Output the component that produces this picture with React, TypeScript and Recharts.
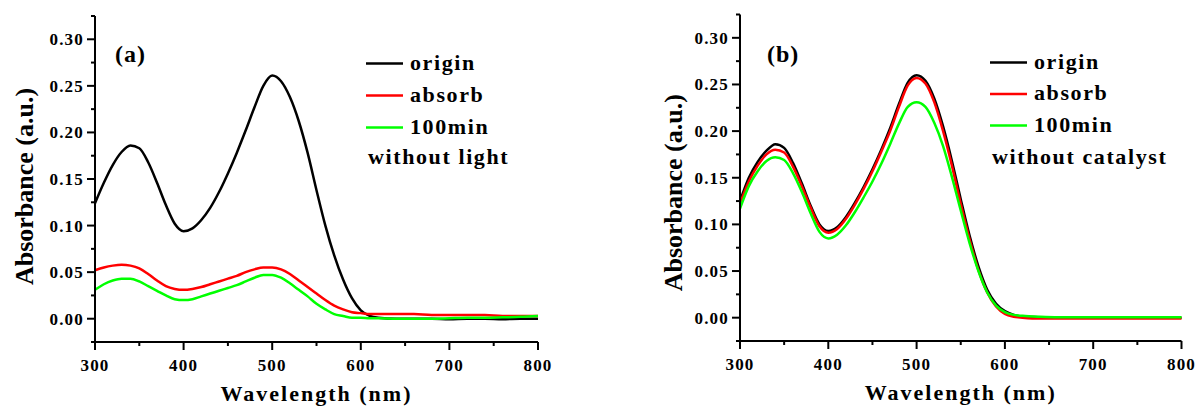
import { Legend, Line, LineChart, XAxis, YAxis } from "recharts";

const wavelengths = [
  300, 310, 320, 330, 340, 350, 360, 370, 380, 390, 400, 410, 420, 430, 440, 450, 460, 470, 480, 490, 500,
  510, 520, 530, 540, 550, 560, 570, 580, 590, 600, 610, 620, 640, 660, 680, 700, 720, 740, 760, 780, 800,
];

// panel (a) - without light
const aOrigin = [
  0.124, 0.146, 0.165, 0.179, 0.186, 0.183, 0.168, 0.146, 0.122, 0.102, 0.094, 0.097, 0.106, 0.119, 0.136,
  0.156, 0.178, 0.202, 0.227, 0.25, 0.261, 0.255, 0.238, 0.212, 0.178, 0.138, 0.1, 0.068, 0.042, 0.022,
  0.009, 0.003, 0.001, 0.0, 0.0, 0.0, -0.0005, 0.0, 0.0, -0.0005, 0.0, 0.0,
];
const aAbsorb = [
  0.052, 0.055, 0.057, 0.058, 0.057, 0.054, 0.048, 0.041, 0.035, 0.032, 0.031, 0.032, 0.034, 0.037, 0.04,
  0.043, 0.046, 0.05, 0.053, 0.055, 0.055, 0.053, 0.048, 0.041, 0.034, 0.027, 0.02, 0.014, 0.01, 0.007,
  0.006, 0.005, 0.005, 0.005, 0.005, 0.004, 0.004, 0.004, 0.004, 0.003, 0.003, 0.003,
];
const a100min = [
  0.031, 0.037, 0.041, 0.043, 0.043, 0.04, 0.035, 0.03, 0.025, 0.021, 0.02, 0.021, 0.024, 0.027, 0.03,
  0.033, 0.036, 0.04, 0.044, 0.047, 0.047, 0.044, 0.038, 0.031, 0.024, 0.016, 0.01, 0.005, 0.003, 0.001,
  0.001, 0.0005, 0.0005, 0.0, 0.0, 0.0, 0.0005, 0.001, 0.001, 0.0015, 0.002, 0.003,
];

// panel (b) - without catalyst
const bOrigin = [
  0.125, 0.15, 0.167, 0.179, 0.186, 0.182, 0.166, 0.144, 0.12, 0.1, 0.093, 0.097, 0.108, 0.123, 0.14,
  0.159, 0.18, 0.203, 0.229, 0.252, 0.26, 0.254, 0.235, 0.205, 0.168, 0.127, 0.088, 0.055, 0.03, 0.015,
  0.007, 0.003, 0.001, 0.0005, 0.0, 0.0, 0.0, 0.0, 0.0, 0.0, 0.0, 0.0,
];
const bAbsorb = [
  0.122, 0.146, 0.163, 0.175, 0.18, 0.177, 0.162, 0.141, 0.118, 0.098, 0.091, 0.095, 0.106, 0.121, 0.138,
  0.157, 0.178, 0.2, 0.226, 0.249, 0.257, 0.251, 0.231, 0.2, 0.163, 0.122, 0.084, 0.051, 0.027, 0.012,
  0.004, 0.001, 0.0, -0.001, -0.001, -0.001, -0.001, -0.001, -0.001, -0.001, -0.001, -0.001,
];
const b100min = [
  0.117, 0.141, 0.157, 0.168, 0.172, 0.169, 0.155, 0.135, 0.112, 0.092, 0.085, 0.089, 0.099, 0.113, 0.129,
  0.146, 0.165, 0.186, 0.208, 0.226, 0.231, 0.226, 0.209, 0.184, 0.151, 0.115, 0.08, 0.05, 0.027, 0.013,
  0.006, 0.003, 0.002, 0.001, 0.0005, 0.0005, 0.0005, 0.0005, 0.0005, 0.0005, 0.0005, 0.0005,
];

const xTicks = [300, 350, 400, 450, 500, 550, 600, 650, 700, 750, 800];
const yTicks = [
  -0.025, 0, 0.025, 0.05, 0.075, 0.1, 0.125, 0.15, 0.175, 0.2, 0.225, 0.25, 0.275, 0.3, 0.325,
];

const seriesNames = ["origin", "absorb", "100min"];
const seriesColors = ["#000000", "#ff0000", "#00ff00"];

const buildRows = (origin: number[], absorb: number[], min100: number[]) =>
  wavelengths.map((w, i) => ({ w, origin: origin[i], absorb: absorb[i], min100: min100[i] }));

const dataA = buildRows(aOrigin, aAbsorb, a100min);
const dataB = buildRows(bOrigin, bAbsorb, b100min);

const serif = "Liberation Serif, Tinos, Times New Roman, DejaVu Serif, serif";
const tickFont = { fontFamily: serif, fontWeight: 700, fontSize: 17, letterSpacing: 1.2, fill: "#000" };
const bigFont = { fontFamily: serif, fontWeight: 700, fontSize: 22, letterSpacing: 1.6, fill: "#000" };
const frame = { stroke: "#000", strokeWidth: 2 };

const XTick = (props: any) => {
  const { x, y, payload } = props;
  const v = payload.value;
  const major = v % 100 === 0;
  return (
    <g>
      <line x1={x} x2={x} y1={y} y2={y + (major ? 8 : 4)} {...frame} />
      {major && (
        <text x={x} y={y + 29} textAnchor="middle" fontFamily={serif} style={tickFont}>
          {v}
        </text>
      )}
    </g>
  );
};

const YTick = (props: any) => {
  const { x, y, payload } = props;
  const v = payload.value;
  const major = Math.abs(v * 20 - Math.round(v * 20)) < 1e-6;
  return (
    <g>
      <line x1={x} x2={x - (major ? 8 : 4)} y1={y} y2={y} {...frame} />
      {major && (
        <text x={x - 11} y={y} dy="0.35em" textAnchor="end" fontFamily={serif} style={tickFont}>
          {v.toFixed(2)}
        </text>
      )}
    </g>
  );
};

interface LegendSpec {
  tag: string;
  note: string;
  tagX: number;
  tagY: number;
  lineX: number;
  textX: number;
  baseY: number;
  step: number;
  noteX: number;
  noteY: number;
}

const PanelLegend = ({ spec }: { spec: LegendSpec }) => (
  <svg width={440} height={150} style={{ display: "block" }}>
    <text x={spec.tagX} y={spec.tagY} fontFamily={serif} style={{ ...bigFont, fontSize: 24, letterSpacing: 1 }}>
      {spec.tag}
    </text>
    {seriesNames.map((name, i) => (
      <g key={name}>
        <line
          x1={spec.lineX}
          x2={spec.lineX + 37}
          y1={spec.baseY + i * spec.step - 6}
          y2={spec.baseY + i * spec.step - 6}
          stroke={seriesColors[i]}
          strokeWidth={2.5}
        />
        <text x={spec.textX} y={spec.baseY + i * spec.step} fontFamily={serif} style={bigFont}>
          {name}
        </text>
      </g>
    ))}
    <text x={spec.noteX} y={spec.noteY} fontFamily={serif} style={bigFont}>
      {spec.note}
    </text>
  </svg>
);

interface PanelProps {
  data: ReturnType<typeof buildRows>;
  width: number;
  margin: { top: number; right: number; bottom: number; left: number };
  yAxisWidth: number;
  xAxisHeight: number;
  yTitleX: number;
  yTitleShift: number;
  legend: LegendSpec;
}

const Panel = ({ data, width, margin, yAxisWidth, xAxisHeight, yTitleX, yTitleShift, legend }: PanelProps) => (
  <LineChart width={width} height={407} data={data} margin={margin} style={{ fontFamily: serif }}>
    <XAxis
      dataKey="w"
      type="number"
      domain={[300, 800]}
      ticks={xTicks}
      interval={0}
      height={xAxisHeight}
      tickSize={0}
      tickMargin={0}
      tickLine={false}
      tick={<XTick />}
      axisLine={frame}
      label={{
        content: ({ viewBox }: any) => (
          <text
            x={viewBox.x + viewBox.width / 2}
            y={viewBox.y + 59}
            textAnchor="middle"
            fontFamily={serif}
            style={{ ...bigFont, letterSpacing: 2 }}
          >
            Wavelength (nm)
          </text>
        ),
      }}
    />
    <XAxis
      xAxisId="top"
      orientation="top"
      dataKey="w"
      type="number"
      domain={[300, 800]}
      height={0}
      tick={false}
      tickLine={false}
      axisLine={frame}
    />
    <YAxis
      type="number"
      domain={[-0.025, 0.325]}
      ticks={yTicks}
      interval={0}
      width={yAxisWidth}
      tickSize={0}
      tickMargin={0}
      tickLine={false}
      tick={<YTick />}
      axisLine={frame}
      label={{
        content: ({ viewBox }: any) => {
          const cy = viewBox.y + viewBox.height / 2 + yTitleShift;
          return (
            <text
              x={yTitleX}
              y={cy}
              transform={`rotate(-90 ${yTitleX} ${cy})`}
              textAnchor="middle"
              fontFamily={serif}
              style={{ ...bigFont, fontSize: 26, letterSpacing: 0 }}
            >
              Absorbance (a.u.)
            </text>
          );
        },
      }}
    />
    <YAxis
      yAxisId="right"
      orientation="right"
      type="number"
      domain={[-0.025, 0.325]}
      width={0}
      tick={false}
      tickLine={false}
      axisLine={frame}
    />
    <Legend
      layout="horizontal"
      verticalAlign="middle"
      align="center"
      wrapperStyle={{ left: margin.left + yAxisWidth + 5, top: 30, width: 440, height: 150 }}
      content={() => <PanelLegend spec={legend} />}
    />
    <Line type="monotone" dataKey="origin" name="origin" stroke={seriesColors[0]} strokeWidth={2.5} dot={false} isAnimationActive={false} />
    <Line type="monotone" dataKey="absorb" name="absorb" stroke={seriesColors[1]} strokeWidth={2.5} dot={false} isAnimationActive={false} />
    <Line type="monotone" dataKey="min100" name="100min" stroke={seriesColors[2]} strokeWidth={2.5} dot={false} isAnimationActive={false} />
  </LineChart>
);

export default function App() {
  return (
    <div style={{ position: "absolute", left: 0, top: 0, width: 1197, height: 407, background: "#fff", overflow: "hidden", fontFamily: serif }}>
      <div style={{ position: "absolute", left: 0, top: 0 }}>
        <Panel
          data={dataA}
          width={600}
          margin={{ top: 16, right: 62, bottom: 0, left: 0 }}
          yAxisWidth={95}
          xAxisHeight={65}
          yTitleX={33}
          yTitleShift={7.5}
          legend={{
            tag: "(a)",
            note: "without light",
            tagX: 15,
            tagY: 31.5,
            lineX: 266,
            textX: 310,
            baseY: 39.5,
            step: 32,
            noteX: 268,
            noteY: 134,
          }}
        />
      </div>
      <div style={{ position: "absolute", left: 640, top: 0 }}>
        <Panel
          data={dataB}
          width={557}
          margin={{ top: 14.5, right: 15.5, bottom: 0, left: 0 }}
          yAxisWidth={100}
          xAxisHeight={66}
          yTitleX={42}
          yTitleShift={15}
          legend={{
            tag: "(b)",
            note: "without catalyst",
            tagX: 22,
            tagY: 32,
            lineX: 245,
            textX: 289,
            baseY: 38.5,
            step: 31.5,
            noteX: 247,
            noteY: 133.5,
          }}
        />
      </div>
    </div>
  );
}
